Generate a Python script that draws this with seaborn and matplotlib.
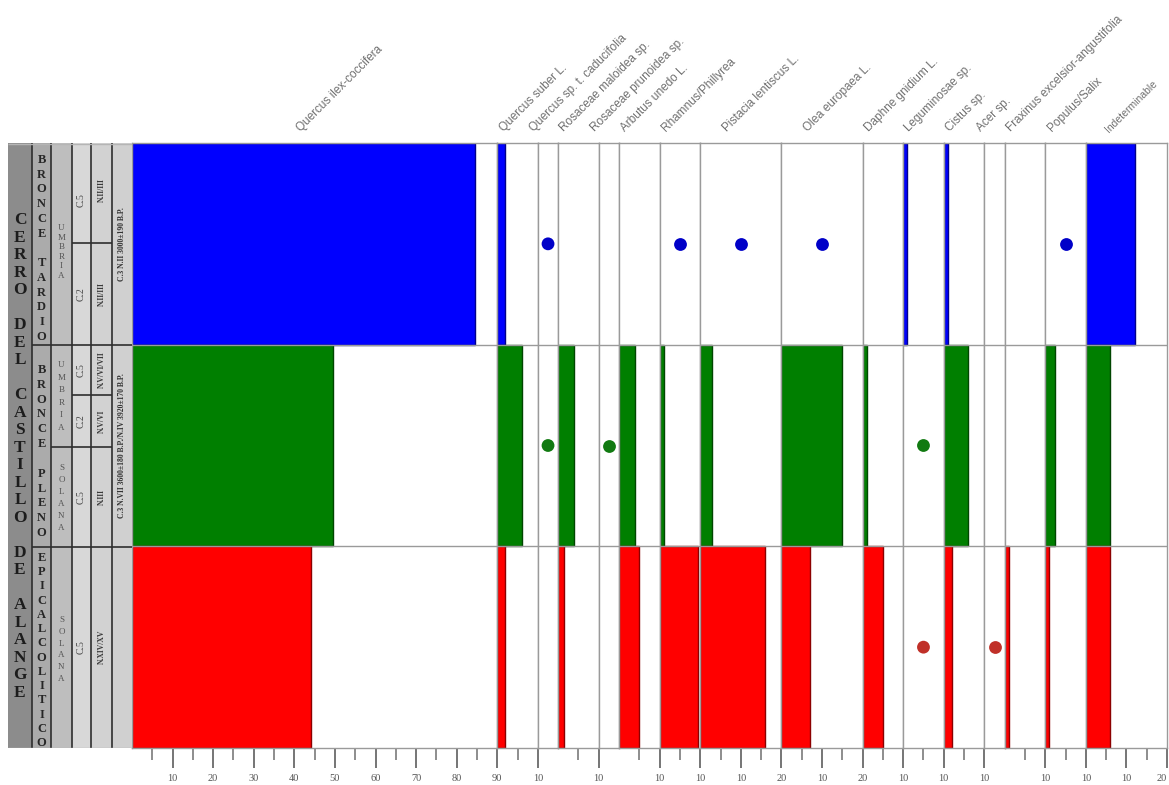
import numpy as np
import pandas as pd
import matplotlib
matplotlib.use("Agg")
import matplotlib.pyplot as plt
import matplotlib.colors as mcolors
import seaborn as sns

# ---------------------------------------------------------------- data
taxa = ["Quercus ilex-coccifera", "Quercus suber L.", "Quercus sp. t. caducifolia",
        "Rosaceae maloidea sp.", "Rosaceae prunoidea sp.", "Arbutus unedo L.",
        "Rhamnus/Phillyrea", "Pistacia lentiscus L.", "Olea europaea L.",
        "Daphne gnidium L.", "Leguminosae sp.", "Cistus sp.", "Acer sp.",
        "Fraxinus excelsior-angustifolia", "Populus/Salix", "Indeterminable"]
# upper limit (%) of each taxon's scale
scale_max = [90, 10, 5, 10, 5, 10, 10, 20, 20, 10, 10, 10, 5, 10, 10, 20]

phases = ["Bronce Tardío", "Bronce Pleno", "Epicalcolítico"]
nan = np.nan
pct_tardio = [84.5, 2, nan, nan, nan, nan, nan, nan, nan, nan, 1, 1, nan, nan, nan, 12]
pct_pleno = [49.5, 6, nan, 4, nan, 4, 1, 3, 15, 1, nan, 6, nan, nan, 2.5, 6]
pct_epi = [44, 2, nan, 1.5, nan, 5, 9.5, 16, 7, 5, nan, 2, nan, 1, 1, 6]

# taxa recorded only as presence
present_tardio = ["Quercus sp. t. caducifolia", "Rhamnus/Phillyrea",
                  "Pistacia lentiscus L.", "Olea europaea L.", "Populus/Salix"]
present_pleno = ["Quercus sp. t. caducifolia", "Rosaceae prunoidea sp.", "Leguminosae sp."]
present_epi = ["Leguminosae sp.", "Acer sp."]

bar_colors = ["#0000ff", "#007f00", "#ff0000"]
dot_colors = ["#0000c8", "#117a11", "#c03028"]

# ---------------------------------------------------------------- tables
pct = pd.DataFrame({
    "taxon": taxa * 3,
    "phase": [p for p in phases for _ in taxa],
    "pct": pct_tardio + pct_pleno + pct_epi,
})
presence = pd.DataFrame({
    "taxon": present_tardio + present_pleno + present_epi,
    "phase": [phases[0]] * len(present_tardio) + [phases[1]] * len(present_pleno)
             + [phases[2]] * len(present_epi),
})
presence["row"] = presence["phase"].map({p: i for i, p in enumerate(phases)})

sns.set_theme(style="white")
plt.rcParams["font.family"] = ["Liberation Serif", "DejaVu Serif"]

W, H = 1169, 785
fig = plt.figure(figsize=(W / 100, H / 100), dpi=100)
fig.patch.set_facecolor("white")

top_px, bot_px, left_px, right_px = 143, 748, 132, 1167
gs = fig.add_gridspec(1, len(taxa), width_ratios=scale_max, wspace=0,
                      left=left_px / W, right=right_px / W,
                      bottom=1 - bot_px / H, top=1 - top_px / H)

grid_col = "#9a9a9a"
bar_pal = dict(zip(phases, bar_colors))
dot_pal = dict(zip(phases, dot_colors))

for i, (taxon, w) in enumerate(zip(taxa, scale_max)):
    ax = fig.add_subplot(gs[0, i])
    sub = pct[(pct["taxon"] == taxon) & pct["pct"].notna()]
    if len(sub):
        sns.barplot(data=sub, x="pct", y="phase", hue="phase", order=phases,
                    hue_order=phases, palette=bar_pal, width=1, orient="h",
                    errorbar=None, legend=False, saturation=1, linewidth=1.0,
                    ax=ax)
        for p in ax.patches:
            fc = np.array(mcolors.to_rgb(p.get_facecolor()))
            p.set_edgecolor(tuple(fc * 0.55))
    pres = presence[presence["taxon"] == taxon]
    if len(pres):
        sns.scatterplot(x=[w / 2] * len(pres), y=pres["row"].to_list(),
                        hue=pres["phase"].to_list(), palette=dot_pal, s=85,
                        linewidth=0, legend=False, ax=ax, zorder=3)
    ax.set_xlim(0, w)
    ax.set_ylim(len(phases) - 0.5, -0.5)
    ax.set_xlabel("")
    ax.set_ylabel("")
    ax.set_yticks([])
    for r in range(1, len(phases)):
        ax.axhline(r - 0.5, color=grid_col, lw=1, zorder=2)
    for s in ax.spines.values():
        s.set_visible(True)
        s.set_color(grid_col)
        s.set_linewidth(1)

    if w >= 10:
        majors = list(range(10, w + 1, 10))
        minors = list(range(5, w, 10))
        ax.set_xticks(majors)
        ax.set_xticklabels([str(m) for m in majors])
        ax.set_xticks(minors, minor=True)
    else:
        ax.set_xticks([])
    ax.tick_params(axis="x", which="major", bottom=True, length=14.5, width=1.3,
                   color="#6a6a6a", labelsize=7.5, labelcolor="#555555", pad=4)
    ax.tick_params(axis="x", which="minor", bottom=True, length=8.5, width=1.2,
                   color="#7a7a7a")
    if i == len(taxa) - 1:
        ax.get_xticklabels()[-1].set_horizontalalignment("right")

    last = i == len(taxa) - 1
    ax.annotate(taxon, xy=(w / 2, 1), xycoords=("data", "axes fraction"),
                xytext=(-16 if last else -12, 9), textcoords="offset pixels",
                rotation=45, rotation_mode="anchor", ha="left", va="bottom",
                fontsize=7.5 if last else 8.5, color="#707070",
                family=["Liberation Sans", "DejaVu Sans"], annotation_clip=False)

# ---------------------------------------------------------------- stratigraphic columns
tab = fig.add_axes([8 / W, 1 - bot_px / H, (left_px - 8) / W, (bot_px - top_px) / H])
tab.set_xlim(8, left_px)
tab.set_ylim(bot_px, top_px)
tab.axis("off")

col_edges = [8, 32, 51, 72, 91, 112, 132]
col_fill = ["#8c8c8c", "#ababab", "#bebebe", "#d8d8d8", "#d2d2d2", "#d0d0d0"]
for x0, x1, c in zip(col_edges[:-1], col_edges[1:], col_fill):
    tab.axvspan(x0, x1, color=c, lw=0)

line_c = "#2e2e2e"
tab.vlines(col_edges[1:-1], top_px, bot_px, colors=line_c, lw=1.2)
tab.hlines([345, 547], 32, 132, colors=line_c, lw=1.2)
tab.hlines(243, 72, 112, colors=line_c, lw=1.2)
tab.hlines(447, 51, 112, colors=line_c, lw=1.2)
tab.hlines(395, 72, 112, colors=line_c, lw=1.2)
tab.hlines([top_px + 0.5, bot_px - 0.5], 8, 132, colors="#b5b5b5", lw=1)


def stacked(text, x, y0, y1, **kw):
    step = (y1 - y0) / (len(text) - 1)
    for k, ch in enumerate(text):
        if ch != " ":
            tab.text(x, y0 + k * step, ch, ha="center", va="center", **kw)


stacked("CERRO DEL CASTILLO DE ALANGE", 20, 220, 693, fontsize=12.5,
        fontweight="bold", color="#1c1c1c")
big = dict(fontsize=9, fontweight="bold", color="#262626")
stacked("BRONCE TARDIO", 41.5, 160, 337, **big)
stacked("BRONCE PLENO", 41.5, 370, 533, **big)
stacked("EPICALCOLITICO", 41.5, 558, 743, **big)
small = dict(fontsize=6.5, color="#555555")
stacked("UMBRIA", 61.5, 228, 276, **small)
stacked("UMBRIA", 61.5, 365, 428, **small)
stacked("SOLANA", 61.5, 468, 528, **small)
stacked("SOLANA", 61.5, 620, 679, **small)

cut = dict(rotation=90, ha="center", va="center", fontsize=7, color="#444444")
for y, s in [(200, "C.5"), (294, "C.2"), (370, "C.5"), (421, "C.2"), (497, "C.5"), (647, "C.5")]:
    tab.text(81.5, y, s, **cut)
lev = dict(rotation=90, ha="center", va="center", fontsize=5.5, fontweight="bold",
           color="#3a3a3a")
for y, s in [(190, "N.II/III"), (294, "N.II/III"), (370, "N.V/VI/VII"),
             (421, "N.V/VI"), (497, "N.III"), (647, "N.XIV/XV")]:
    tab.text(101.5, y, s, **lev)
date = dict(rotation=90, ha="center", va="center", fontsize=5.5, fontweight="bold",
            color="#333333")
tab.text(122, 244, "C.3 N.II 3000±190 B.P.", **date)
tab.text(122, 446, "C.3 N.VII 3600±180 B.P./N.IV 3920±170 B.P.", **date)

fig.savefig("out.png", dpi=100, facecolor="white")
